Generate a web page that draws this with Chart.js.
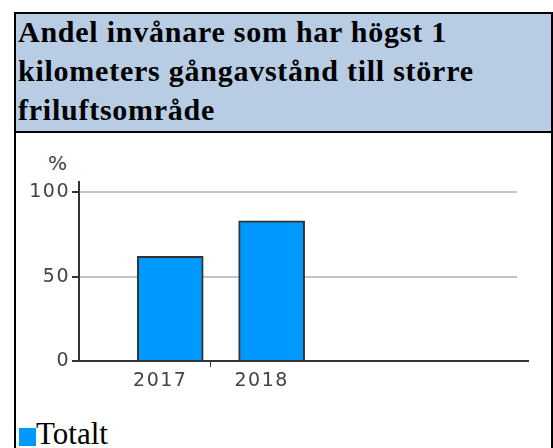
<!DOCTYPE html>
<html>
<head>
<meta charset="utf-8">
<script src="https://cdn.jsdelivr.net/npm/chart.js@4"></script>
<style>
  body { margin: 0; background: #fff; width: 553px; height: 448px; overflow: hidden; position: relative; }
  #box { position: absolute; left: 14px; top: 12px; width: 535px; height: 440px; border: 2px solid #000; border-bottom: none; }
  #head { position: absolute; left: 0; top: 0; width: 535px; height: 117px; background: #b8cce4; border-bottom: 2px solid #000; overflow: hidden; }
  #head div { position: absolute; left: 2px; top: -2px; font: bold 30px "Liberation Serif", serif; line-height: 39px; letter-spacing: 0.75px; color: #000; white-space: nowrap; }
  #wrap { position: absolute; left: 0; top: 119px; }
  #pct { position: absolute; left: 32px; top: 137px; font: 20px "DejaVu Sans", sans-serif; color: #444; }
  #sq { position: absolute; left: 3px; top: 414px; width: 17px; height: 18px; background: #0099ff; }
  #legend { position: absolute; left: 20px; top: 403px; font: 31px "Liberation Serif", serif; line-height: 34px; color: #000; white-space: nowrap; }
</style>
</head>
<body>
<div id="box">
  <div id="head"><div>Andel invånare som har högst 1<br>kilometers gångavstånd till större<br>friluftsområde</div></div>
  <div id="pct">%</div>
  <div id="wrap"><canvas id="chart" width="535" height="270"></canvas></div>
  <div id="sq"></div>
  <div id="legend">Totalt</div>
</div>
<script>
// data
const years = [2017, 2018];
const totalt = [62, 83];
const yTicks = [0, 50, 100];

document.addEventListener("DOMContentLoaded", function () {
    let canvas = document.getElementById("chart");

    // lite luft mellan siffrorna, som i originalet
    const spacing = {
        id: "spacing",
        beforeDraw(chart) { chart.ctx.letterSpacing = "1.5px"; }
    };
    // x-axeln går lite längre än stödlinjerna
    const axisTail = {
        id: "axisTail",
        afterDraw(chart) {
            const c = chart.ctx, a = chart.chartArea;
            c.save();
            c.strokeStyle = "#333";
            c.lineWidth = 2;
            c.beginPath();
            c.moveTo(a.right - 1, a.bottom);
            c.lineTo(a.right + 12, a.bottom);
            c.stroke();
            c.restore();
        }
    };

    new Chart(canvas, {
        type: "bar",
        data: {
            datasets: [{
                label: "Totalt",
                data: years.map((y, i) => ({ x: y, y: totalt[i] })),
                backgroundColor: "#0099ff",
                borderColor: "#333",
                borderWidth: 2,
                barThickness: 66,
            }],
        },
        options: {
            responsive: false,
            animation: false,
            layout: { padding: { top: 49, right: 34, bottom: 12, left: 0 } },
            plugins: { legend: { display: false }, tooltip: { enabled: false } },
            scales: {
                x: {
                    type: "linear",
                    min: 2016.1,
                    max: 2020.42,
                    offset: false,
                    afterBuildTicks: s => { s.ticks = [{ value: years[0] }, { value: 2017.4 }, { value: years[1] }]; },
                    afterFit: s => { s.height = 30; },
                    grid: {
                        offset: false,
                        drawOnChartArea: false,
                        tickLength: 6,
                        lineWidth: 1,
                        color: c => Number.isInteger(c.tick.value) ? "rgba(0,0,0,0)" : "#333",
                    },
                    border: { color: "#333", width: 2 },
                    ticks: {
                        callback: v => Number.isInteger(v) ? String(v) : "",
                        labelOffset: -10,
                        padding: 3,
                        maxRotation: 0,
                        autoSkip: false,
                        color: "#444",
                        font: { family: "DejaVu Sans", size: 19 },
                    },
                },
                y: {
                    min: 0,
                    max: 106,
                    afterBuildTicks: s => { s.ticks = yTicks.map(v => ({ value: v })); },
                    afterFit: s => { s.width = 63; },
                    grid: {
                        lineWidth: 2,
                        tickLength: 7,
                        tickColor: "#333",
                        color: c => c.tick.value === 0 ? "rgba(0,0,0,0)" : "#c4c4c4",
                    },
                    border: { color: "#333", width: 2 },
                    ticks: {
                        padding: 2,
                        color: "#444",
                        font: { family: "DejaVu Sans", size: 19 },
                    },
                },
            },
        },
        plugins: [spacing, axisTail],
    });
});
</script>
</body>
</html>
